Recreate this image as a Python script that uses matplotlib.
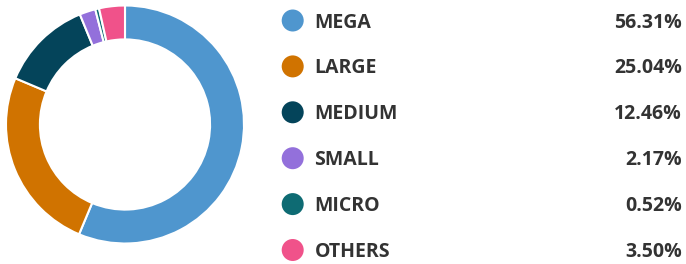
import matplotlib
matplotlib.use("Agg")
import matplotlib.pyplot as plt

categories = ["MEGA", "LARGE", "MEDIUM", "SMALL", "MICRO", "OTHERS"]
values = [56.31, 25.04, 12.46, 2.17, 0.52, 3.50]
value_labels = ["56.31%", "25.04%", "12.46%", "2.17%", "0.52%", "3.50%"]
colors = ["#4f96ce", "#d07300", "#04445a", "#9370db", "#0e6b73", "#f0528a"]

W, H = 686, 264
fig = plt.figure(figsize=(W / 100, H / 100), dpi=100)

# donut
cx, cy, r = 125, 124.5, 119
ax = fig.add_axes([(cx - r) / W, (H - cy - r) / H, 2 * r / W, 2 * r / H])
ax.pie(values, colors=colors, startangle=90, counterclock=False, radius=1,
       wedgeprops=dict(width=0.285, edgecolor="white", linewidth=1.5))
ax.set_xlim(-1, 1)
ax.set_ylim(-1, 1)
ax.set_aspect("equal")
ax.axis("off")

# legend
lax = fig.add_axes([0, 0, 1, 1])
lax.set_xlim(0, W)
lax.set_ylim(H, 0)
lax.axis("off")
y0, dy = 20.5, 45.9
font = dict(family=["Open Sans", "DejaVu Sans"], weight="bold", size=14, color="#333333")
for i, (cat, lab, col) in enumerate(zip(categories, value_labels, colors)):
    y = y0 + i * dy
    lax.scatter([292.7], [y], s=(22 * 0.72) ** 2, color=col, edgecolors="none")
    lax.text(314.5, y - 0.5, cat, ha="left", va="center_baseline", **font)
    lax.text(682, y - 0.5, lab, ha="right", va="center_baseline", **font)

fig.savefig("out.png", dpi=100)
